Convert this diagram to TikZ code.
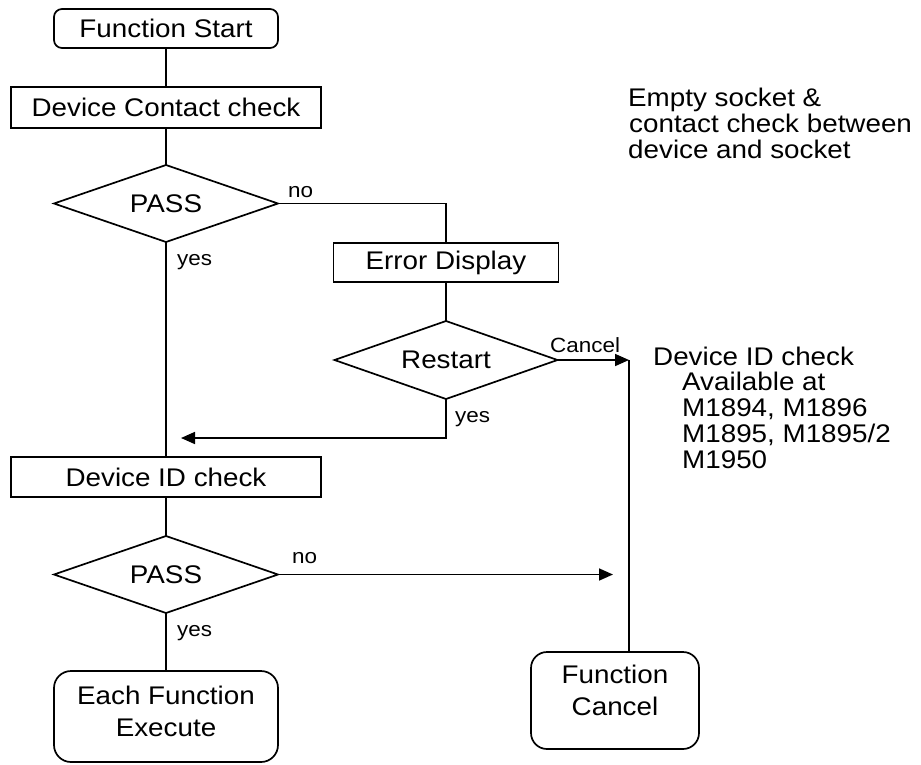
\documentclass[tikz,border=0pt]{standalone}
\usepackage{fontspec}
\setmainfont{Liberation Sans}[FakeStretch=1.09]
\usetikzlibrary{shapes.geometric,arrows.meta}

\newcommand\flowfont{\fontsize{25.5}{32}\selectfont}
\newcommand\tagfont{\fontsize{20.6}{24}\selectfont}

\tikzset{
  flow/.style={draw, line width=1.7pt, inner sep=0pt, outer sep=0pt, align=center, font=\flowfont},
  procbox/.style={flow, rectangle, minimum width=310pt, minimum height=40pt},
  termbox/.style={flow, rectangle, minimum width=224pt},
  decision/.style={flow, diamond, aspect=2.9, minimum width=224pt, minimum height=77pt},
  conn/.style={line width=1.7pt},
  arrowconn/.style={conn, -{Triangle[length=14pt,width=12pt]}},
  tag/.style={font=\tagfont, inner sep=0pt, anchor=base west},
  note/.style={font=\flowfont, inner sep=0pt, anchor=base west}
}

\begin{document}
\begin{tikzpicture}[x=1pt,y=-1pt]
\useasboundingbox (0,0) rectangle (921,764);

% main column
\node[termbox, minimum height=39pt, rounded corners=8pt] (start) at (166,28.5) {Function Start};
\node[procbox, minimum height=41pt] (contact) at (166,107.5) {Device Contact check};
\node[decision] (pass1) at (166,203.5) {PASS};
\node[procbox] (devid) at (166,477) {Device ID check};
\node[decision] (pass2) at (166,574.5) {PASS};
\node[termbox, minimum height=91pt, rounded corners=17pt, text depth=10pt] (exec) at (166,716.5) {Each Function\\Execute};

% error branch
\node[flow, rectangle, minimum width=225pt, minimum height=39pt] (err) at (446,262.5) {Error Display};
\node[decision, minimum width=223pt, minimum height=78pt] (restart) at (446,360) {Restart};
\node[termbox, minimum width=168pt, minimum height=97pt, rounded corners=16pt, text depth=20pt] (cancel) at (615,700.5) {Function\\Cancel};

% junction points
\coordinate (cj) at (629,360);
\coordinate (back) at (181,438);
\coordinate (nj) at (613,574.5);

% connectors
\draw[conn] (start.south) -- (contact.north);
\draw[conn] (contact.south) -- (pass1.north);
\draw[conn] (pass1.south) -- (devid.north);
\draw[conn] (devid.south) -- (pass2.north);
\draw[conn] (pass2.south) -- (exec.north);
\draw[conn] (pass1.east) -| (err.north);
\draw[conn] (err.south) -- (restart.north);
\draw[arrowconn] (restart.east) -- (cj);
\draw[conn] (cj) -- (cj |- cancel.north);
\draw[arrowconn] (restart.south) |- (back);
\draw[arrowconn] (pass2.east) -- (nj);

% branch labels
\node[tag] (no1) at (288,197) {no};
\node[tag] (yes1) at (177,265) {yes};
\node[tag] (cancellbl) at (550,352) {Cancel};
\node[tag] (yes2) at (455,422) {yes};
\node[tag] (no2) at (292,563) {no};
\node[tag] (yes3) at (177,636) {yes};

% notes
\node[note] (n1) at (628,106) {Empty socket \&};
\node[note] (n2) at (629,132) {contact check between};
\node[note] (n3) at (628,158) {device and socket};
\node[note] (m1) at (653,365) {Device ID check};
\node[note] (m2) at (682,390) {Available at};
\node[note] (m3) at (682,416) {M1894, M1896};
\node[note] (m4) at (682,442) {M1895, M1895/2};
\node[note] (m5) at (682,468) {M1950};
\end{tikzpicture}
\end{document}
